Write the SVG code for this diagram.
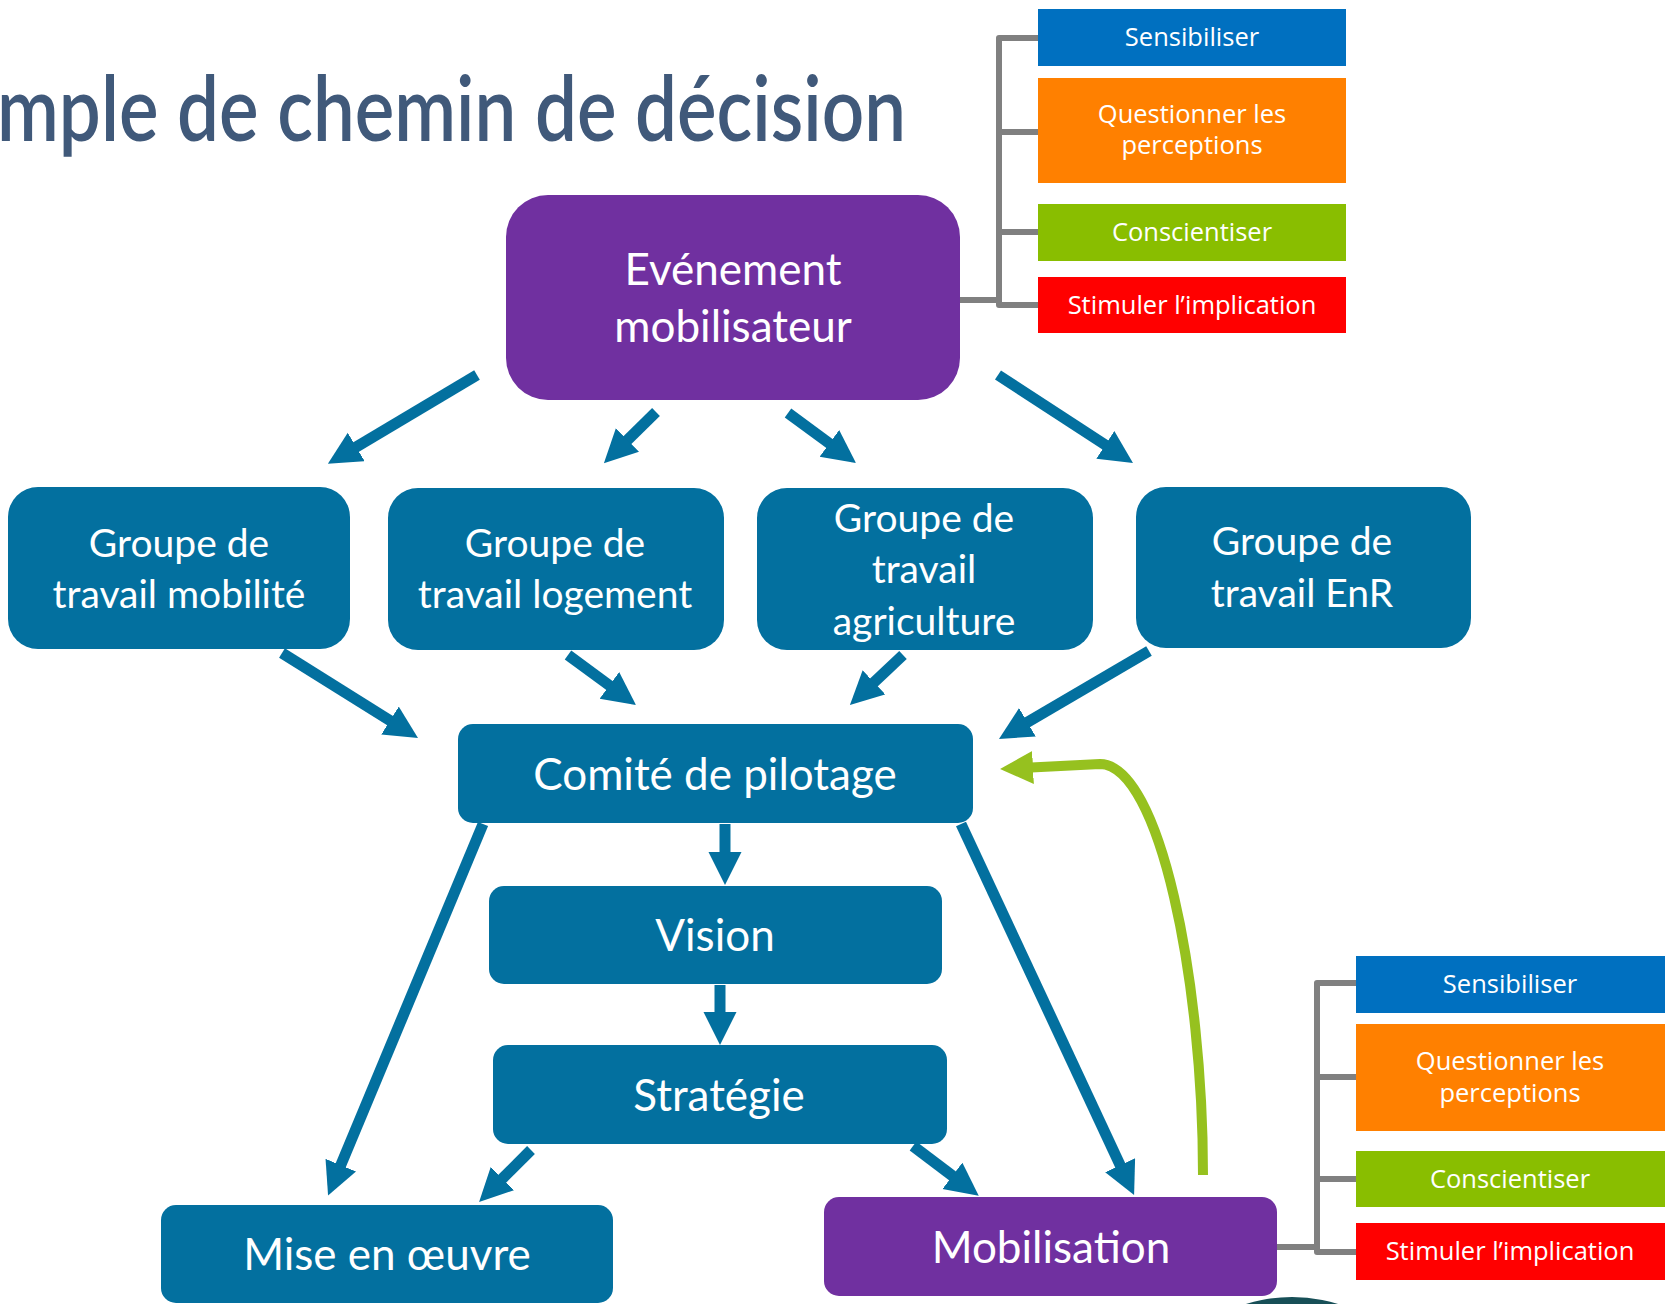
<svg xmlns="http://www.w3.org/2000/svg" width="1665" height="1304" viewBox="0 0 1665 1304">
<style>
.bx{fill:#03709F}
.pu{fill:#7030A0}
.m{font-family:Lato,"Open Sans",sans-serif;font-size:44px;fill:#fff;text-anchor:middle}
.g{font-family:Lato,"Open Sans",sans-serif;font-size:39px;fill:#fff;text-anchor:middle}
.s{font-family:"Open Sans","Noto Sans",sans-serif;font-size:25.5px;fill:#fff;text-anchor:middle}
.ar{stroke:#03709F;stroke-width:11;fill:none;marker-end:url(#hb)}
.br{stroke:#808080;stroke-width:6;fill:none;stroke-linejoin:round}
</style>
<defs>
<marker id="hb" markerUnits="userSpaceOnUse" markerWidth="34" markerHeight="34" refX="2" refY="16.5" orient="auto" viewBox="0 0 34 34">
<path d="M0,0 L33,16.5 L0,33 z" fill="#03709F"/>
</marker>
<marker id="hg" markerUnits="userSpaceOnUse" markerWidth="34" markerHeight="34" refX="2" refY="16.5" orient="auto" viewBox="0 0 34 34">
<path d="M0,0 L33,16.5 L0,33 z" fill="#96C11F"/>
</marker>
</defs>
<rect width="1665" height="1304" fill="#fff"/>
<text x="-3" y="141" font-family="Lato,'Open Sans',sans-serif" font-size="90" font-weight="600" fill="#40597A" textLength="909" lengthAdjust="spacingAndGlyphs">mple de chemin de décision</text>

<g id="connectors">
<line class="ar" x1="477" y1="375" x2="354.5" y2="448"/>
<line class="ar" x1="656" y1="412" x2="626" y2="441.5"/>
<line class="ar" x1="788" y1="413" x2="831" y2="444.6"/>
<line class="ar" x1="998" y1="375" x2="1107" y2="446"/>
<line class="ar" x1="282" y1="653" x2="391.7" y2="721.6"/>
<line class="ar" x1="568" y1="655" x2="611" y2="686.6"/>
<line class="ar" x1="903" y1="655" x2="872.5" y2="683.7"/>
<line class="ar" x1="1149" y1="651" x2="1025.7" y2="723.3"/>
<line class="ar" x1="725" y1="824" x2="725" y2="854"/>
<line class="ar" x1="720" y1="985" x2="720" y2="1014"/>
<line class="ar" x1="483" y1="824" x2="340" y2="1167"/>
<line class="ar" x1="961" y1="824" x2="1121" y2="1167"/>
<line class="ar" x1="531" y1="1150" x2="501" y2="1180"/>
<line class="ar" x1="913" y1="1146" x2="954" y2="1177"/>
<path d="M1203,1175 C1203,980 1160,765 1100,764 L1031,767.5" stroke="#96C11F" stroke-width="10" fill="none" marker-end="url(#hg)"/>
<path class="br" d="M960,300 H999 M1038,38 H999 V305 H1038 M999,132 H1038 M999,232 H1038"/>
<path class="br" d="M1277,1247 H1317 M1356,983 H1317 V1252 H1356 M1317,1077 H1356 M1317,1179 H1356"/>
</g>

<g id="evenement">
<rect class="pu" x="506" y="195" width="454" height="205" rx="42"/>
<text class="m" x="733" y="285">Evénement</text>
<text class="m" x="733" y="342">mobilisateur</text>
</g>

<g id="tr-sensibiliser"><rect x="1038" y="9" width="308" height="57" fill="#0070C0"/><text class="s" x="1192" y="46">Sensibiliser</text></g>
<g id="tr-questionner"><rect x="1038" y="78" width="308" height="105" fill="#FF8000"/><text class="s" x="1192" y="123">Questionner les</text><text class="s" x="1192" y="154">perceptions</text></g>
<g id="tr-conscientiser"><rect x="1038" y="204" width="308" height="57" fill="#89BE00"/><text class="s" x="1192" y="241">Conscientiser</text></g>
<g id="tr-stimuler"><rect x="1038" y="277" width="308" height="56" fill="#FF0000"/><text class="s" x="1192" y="314">Stimuler l’implication</text></g>

<g id="g-mobilite">
<rect class="bx" x="8" y="487" width="342" height="162" rx="30"/>
<text class="g" x="179" y="557">Groupe de</text>
<text class="g" x="179" y="608">travail mobilité</text>
</g>
<g id="g-logement">
<rect class="bx" x="388" y="488" width="336" height="162" rx="30"/>
<text class="g" x="555" y="557">Groupe de</text>
<text class="g" x="555" y="608">travail logement</text>
</g>
<g id="g-agriculture">
<rect class="bx" x="757" y="488" width="336" height="162" rx="30"/>
<text class="g" x="924" y="532">Groupe de</text>
<text class="g" x="924" y="583">travail</text>
<text class="g" x="924" y="635">agriculture</text>
</g>
<g id="g-enr">
<rect class="bx" x="1136" y="487" width="335" height="161" rx="30"/>
<text class="g" x="1302" y="555">Groupe de</text>
<text class="g" x="1302" y="607">travail EnR</text>
</g>

<g id="comite">
<rect class="bx" x="458" y="724" width="515" height="99" rx="15"/>
<text class="m" x="715" y="790">Comité de pilotage</text>
</g>
<g id="vision">
<rect class="bx" x="489" y="886" width="453" height="98" rx="15"/>
<text class="m" x="715" y="951">Vision</text>
</g>
<g id="strategie">
<rect class="bx" x="493" y="1045" width="454" height="99" rx="15"/>
<text class="m" x="719" y="1111">Stratégie</text>
</g>
<g id="mise">
<rect class="bx" x="161" y="1205" width="452" height="98" rx="15"/>
<text class="m" x="387" y="1270">Mise en œuvre</text>
</g>
<g id="mobilisation">
<rect class="pu" x="824" y="1197" width="453" height="99" rx="15"/>
<text class="m" x="1051" y="1263">Mobilisation</text>
</g>

<g id="br-sensibiliser"><rect x="1356" y="956" width="309" height="57" fill="#0070C0"/><text class="s" x="1510" y="993">Sensibiliser</text></g>
<g id="br-questionner"><rect x="1356" y="1024" width="309" height="107" fill="#FF8000"/><text class="s" x="1510" y="1070">Questionner les</text><text class="s" x="1510" y="1102">perceptions</text></g>
<g id="br-conscientiser"><rect x="1356" y="1151" width="309" height="56" fill="#89BE00"/><text class="s" x="1510" y="1188">Conscientiser</text></g>
<g id="br-stimuler"><rect x="1356" y="1223" width="309" height="57" fill="#FF0000"/><text class="s" x="1510" y="1260">Stimuler l’implication</text></g>

<circle cx="1292" cy="1452" r="155" fill="#174F57"/>
</svg>
